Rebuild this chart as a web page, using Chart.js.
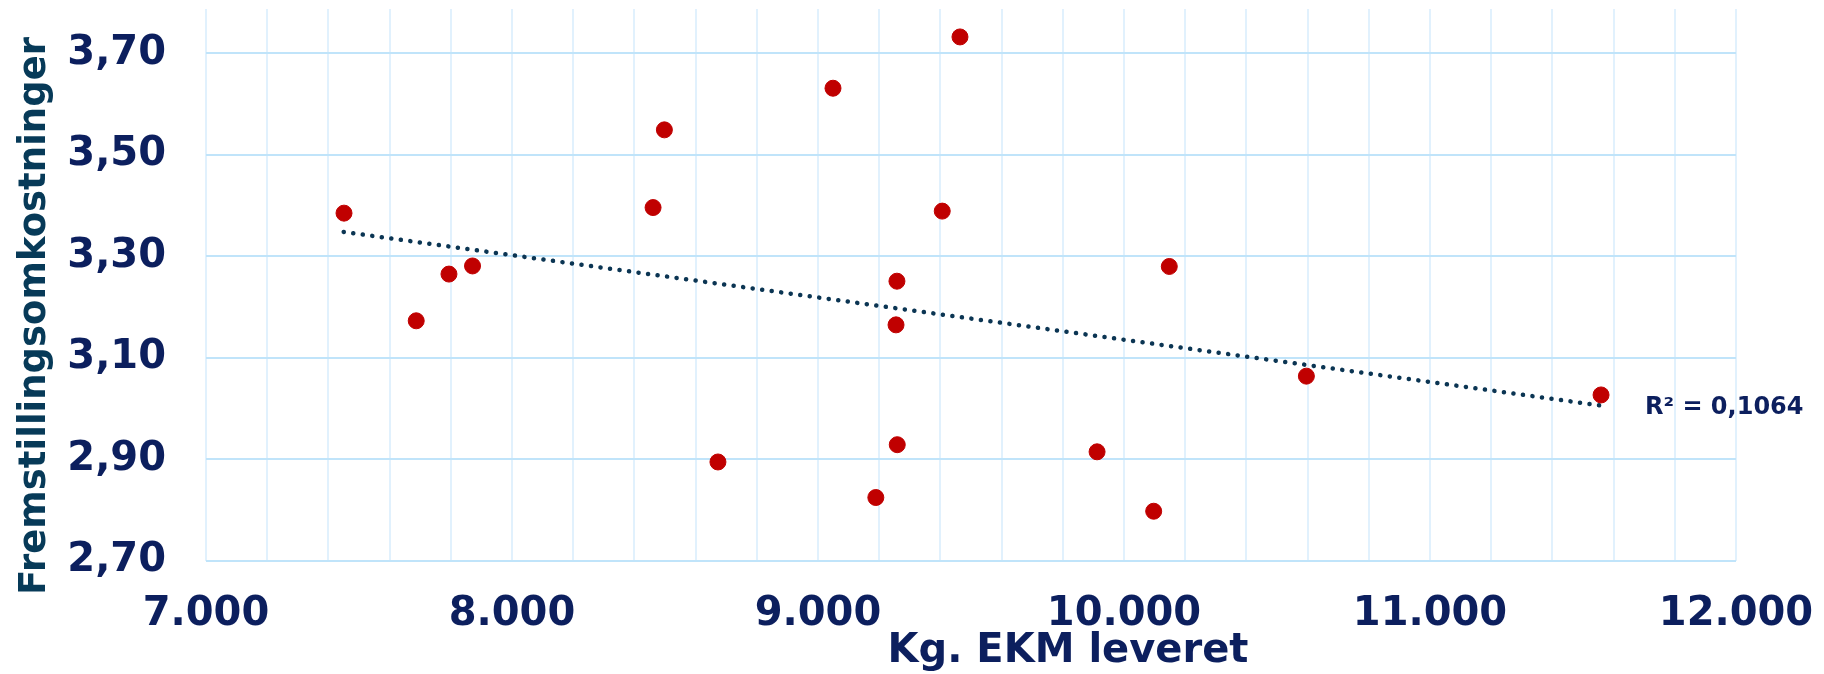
<!DOCTYPE html>
<html>
<head>
<meta charset="utf-8">
<script src="https://cdn.jsdelivr.net/npm/chart.js@4.4.1/dist/chart.umd.min.js"></script>
<style>
    html, body { margin: 0; padding: 0; background: #ffffff; }
    #wrap { width: 1824px; height: 674px; position: relative; }
</style>
</head>
<body>
<div id="wrap"><canvas id="scatter-chart"></canvas></div>
<script>
// kg EKM delivered per farm (x) and production costs (y)
var kg_ekm = [7451, 7687, 7794, 7871, 8461, 8498, 8673, 9049, 9189, 9255, 9258, 9259, 9406, 9464, 9912, 10097, 10148, 10596, 11559];
var costs = [3.385, 3.173, 3.265, 3.281, 3.396, 3.549, 2.895, 3.631, 2.825, 3.165, 3.251, 2.929, 3.389, 3.732, 2.915, 2.798, 3.280, 3.064, 3.027];

// linear trendline end points
var trend_x = [7450, 11559];
var trend_y = [3.348, 3.006];
var r_squared = 'R² = 0,1064';

// tick values and labels
var x_grid = [7000, 7200, 7400, 7600, 7800, 8000, 8200, 8400, 8600, 8800, 9000, 9200, 9400, 9600, 9800,
              10000, 10200, 10400, 10600, 10800, 11000, 11200, 11400, 11600, 11800, 12000];
var x_ticks = [7000, 8000, 9000, 10000, 11000, 12000];
var x_tick_labels = ['7.000', '8.000', '9.000', '10.000', '11.000', '12.000'];
var y_ticks = [2.7, 2.9, 3.1, 3.3, 3.5, 3.7];
var y_tick_labels = ['2,70', '2,90', '3,10', '3,30', '3,50', '3,70'];

var x_title = 'Kg. EKM leveret';
var y_title = 'Fremstillingsomkostninger';

var navy = '#0c1f5e';
var font_family = '"DejaVu Sans", Verdana, sans-serif';

// build point objects for chart.js
function toPoints(xs, ys) {
    var points = [];
    for (var i = 0; i < xs.length; i++) {
        points.push({ x: xs[i], y: ys[i] });
    }
    return points;
}

// label lookup for a tick value
function tickLabel(value, ticks, labels) {
    for (var i = 0; i < ticks.length; i++) {
        if (Math.abs(value - ticks[i]) < 1e-6) {
            return labels[i];
        }
    }
    return '';
}

// plugin that writes axis titles and the R² text
var textPlugin = {
    id: 'axisText',
    afterDraw: function(chart) {
        var ctx = chart.ctx;
        var area = chart.chartArea;
        ctx.save();
        // x axis title
        ctx.font = 'bold 40px ' + font_family;
        ctx.fillStyle = navy;
        ctx.textAlign = 'center';
        ctx.textBaseline = 'alphabetic';
        ctx.fillText(x_title, (area.left + area.right) / 2 + 97, 662);
        // y axis title
        ctx.save();
        ctx.translate(45, 316);
        ctx.rotate(-Math.PI / 2);
        ctx.font = 'bold 37px ' + font_family;
        ctx.fillStyle = '#073a58';
        ctx.textAlign = 'center';
        ctx.fillText(y_title, 0, 0);
        ctx.restore();
        // R² next to the end of the trendline
        var xs = chart.scales.x;
        var ys = chart.scales.y;
        ctx.font = 'bold 24px ' + font_family;
        ctx.fillStyle = navy;
        ctx.textAlign = 'left';
        ctx.textBaseline = 'middle';
        ctx.fillText(r_squared, xs.getPixelForValue(trend_x[1]) + 44, ys.getPixelForValue(trend_y[1]) + 2);
        ctx.restore();
    }
};

var ctx = document.getElementById('scatter-chart').getContext('2d');
var myScatterChart = new Chart(ctx, {
    type: 'scatter',
    data: {
        datasets: [{
            label: 'Bedrifter',
            data: toPoints(kg_ekm, costs),
            backgroundColor: '#c00000',
            borderColor: '#c00000',
            pointRadius: 8,
            pointHoverRadius: 8,
            order: 1
        }, {
            label: 'Lineær tendens',
            type: 'line',
            data: toPoints(trend_x, trend_y),
            borderColor: '#0b3553',
            borderWidth: 4.5,
            borderDash: [0.1, 9.5],
            borderCapStyle: 'round',
            pointRadius: 0,
            fill: false,
            order: 2
        }]
    },
    options: {
        responsive: true,
        maintainAspectRatio: false,
        animation: false,
        devicePixelRatio: 1,
        layout: {
            padding: { left: 0, right: 88, top: 0, bottom: 0 }
        },
        plugins: {
            legend: { display: false },
            tooltip: { enabled: false }
        },
        scales: {
            x: {
                type: 'linear',
                min: 7000,
                max: 12000,
                afterBuildTicks: function(scale) {
                    scale.ticks = x_grid.map(function(v) { return { value: v }; });
                },
                afterFit: function(scale) {
                    scale.height = 113;
                    scale.paddingLeft = 0;
                    scale.paddingRight = 0;
                },
                border: { display: false },
                grid: {
                    color: '#e1f1fd',
                    lineWidth: 2,
                    drawTicks: false
                },
                ticks: {
                    autoSkip: false,
                    maxRotation: 0,
                    padding: 30,
                    color: navy,
                    font: { family: font_family, size: 40, weight: 'bold' },
                    callback: function(value) {
                        return tickLabel(value, x_ticks, x_tick_labels);
                    }
                }
            },
            y: {
                type: 'linear',
                min: 2.7,
                max: 3.787,
                afterBuildTicks: function(scale) {
                    scale.ticks = y_ticks.map(function(v) { return { value: v }; });
                },
                afterFit: function(scale) {
                    scale.width = 206;
                    scale.paddingTop = 0;
                    scale.paddingBottom = 0;
                },
                border: { display: false },
                grid: {
                    color: '#c0e4fa',
                    lineWidth: 2,
                    drawTicks: false
                },
                ticks: {
                    autoSkip: false,
                    padding: 40,
                    color: navy,
                    font: { family: font_family, size: 40, weight: 'bold' },
                    callback: function(value) {
                        return tickLabel(value, y_ticks, y_tick_labels);
                    }
                }
            }
        }
    },
    plugins: [textPlugin]
});
</script>
</body>
</html>
